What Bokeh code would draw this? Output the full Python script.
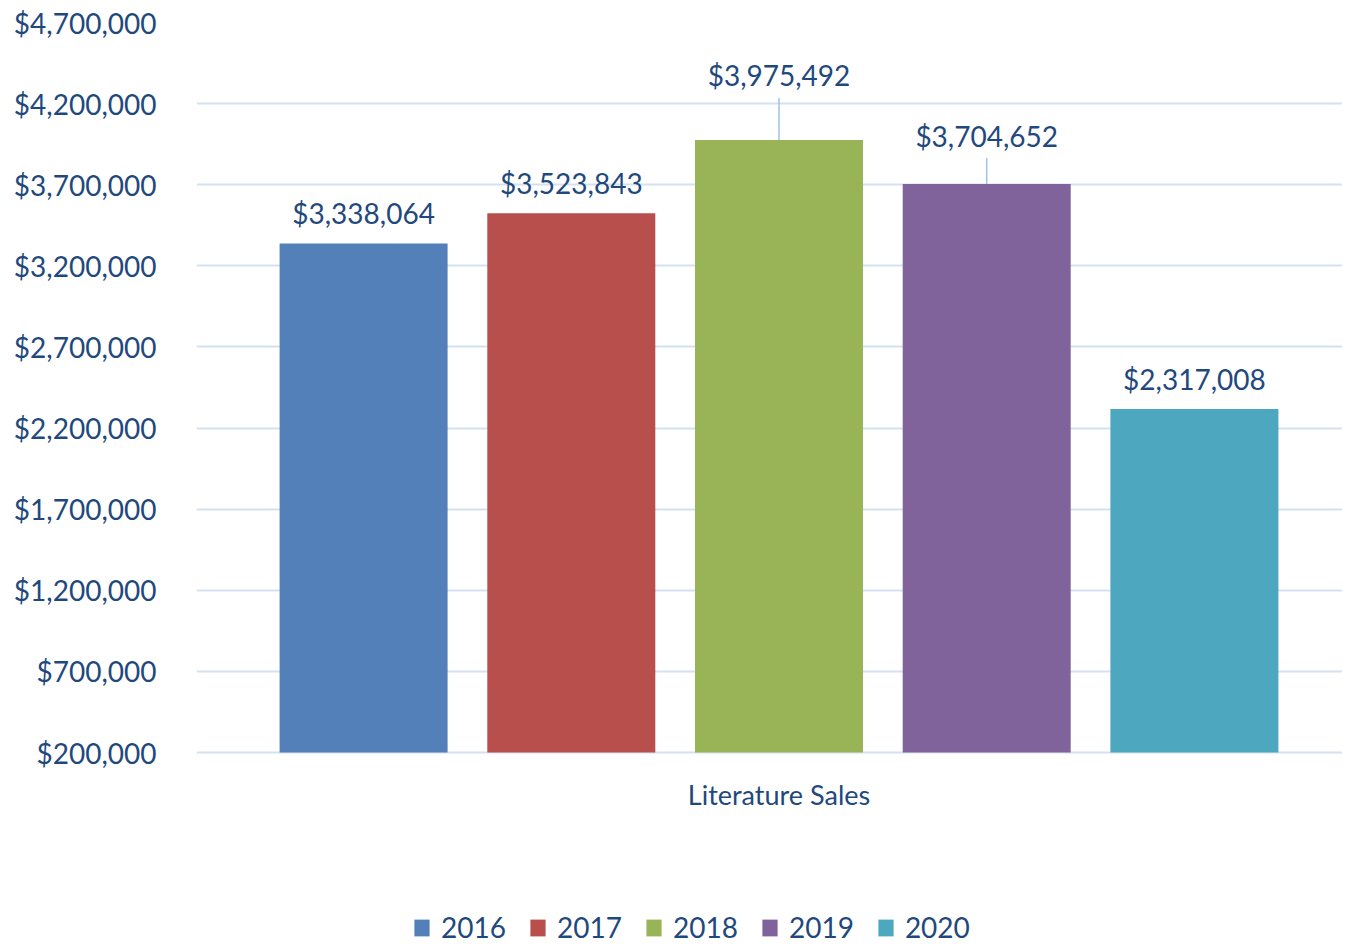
from bokeh.plotting import figure
from bokeh.models import (ColumnDataSource, Range1d, FixedTicker, NumeralTickFormatter,
                          Legend, LegendItem)
from bokeh.core.properties import value
from bokeh.embed import file_html
from bokeh.resources import INLINE

# ---- data ----
category = "Literature Sales"
years = ["2016", "2017", "2018", "2019", "2020"]
sales = [3338064, 3523843, 3975492, 3704652, 2317008]
y_ticks = [200000, 700000, 1200000, 1700000, 2200000, 2700000, 3200000, 3700000, 4200000, 4700000]

# ---- style ----
colors = ["#5380b8", "#b84f4c", "#98b457", "#80639b", "#4da7bf"]
label_lift = [-30, -30, -65, -48, -30]      # px above bar top
leader_len = [0, 0, 42, 26, 0]              # px leader line
TEXT = "#1F497D"
GRID = "#D5E1F0"
FONT = "Lato"

W, H = 1342, 944
LEFT, TOP = 196, 22
BASE_PX = 752                                # pixel row of the lowest tick
frame_w = W - LEFT
units_per_px = (y_ticks[-1] - y_ticks[0]) / (BASE_PX - TOP)
y_start = y_ticks[0] - (H - BASE_PX) * units_per_px

spacing = 207.7 / frame_w
bar_w = 168.0 / frame_w
center = (778.5 - LEFT) / frame_w
offsets = [(i - 2) * spacing for i in range(len(years))]

src = ColumnDataSource(dict(
    x=offsets, top=sales, year=years, color=colors,
    label=["${:,}".format(v) for v in sales],
    lift=label_lift,
))
lead_idx = [i for i in range(len(years)) if leader_len[i] > 0]
lead_src = ColumnDataSource(dict(
    x=[offsets[i] for i in lead_idx], top=[sales[i] for i in lead_idx],
    length=[leader_len[i] for i in lead_idx],
))

p = figure(width=W, height=H, output_backend="svg", toolbar_location=None,
           x_range=Range1d(-center, 1 - center),
           y_range=Range1d(y_start, y_ticks[-1]),
           min_border_left=LEFT, min_border_top=TOP, min_border_bottom=0,
           min_border_right=0)
p.outline_line_color = None
p.background_fill_color = "white"

bars = p.vbar(x="x", top="top", bottom=y_ticks[0], width=bar_w, color="color",
              line_color=None, source=src)

p.ray(x="x", y="top", length="length", angle=1.5708, length_units="screen",
      line_color="#9DC3E6", line_width=1.5, source=lead_src)

p.text(x="x", y="top", text="label", y_offset="lift", text_align="center",
       text_baseline="middle", text_font=value(FONT), text_font_size="28px",
       text_color=TEXT, source=src)

# category label under the baseline
p.text(x=[0], y=[y_ticks[0]], text=[category], y_offset=42, text_align="center",
       text_baseline="middle", text_font=value(FONT), text_font_size="27px",
       text_color=TEXT)

# axes
p.yaxis.ticker = FixedTicker(ticks=y_ticks)
p.yaxis.formatter = NumeralTickFormatter(format="$0,0")
p.yaxis.axis_line_color = None
p.yaxis.major_tick_line_color = None
p.yaxis.minor_tick_line_color = None
p.yaxis.major_label_standoff = 34
p.yaxis.major_label_text_font = FONT
p.yaxis.major_label_text_font_size = "28px"
p.yaxis.major_label_text_color = TEXT

p.xaxis.visible = False
p.xgrid.grid_line_color = None
p.ygrid.grid_line_color = GRID
p.ygrid.grid_line_width = 2

items = [LegendItem(label=years[i], renderers=[bars], index=i) for i in range(len(years))]
legend = Legend(items=items, orientation="horizontal", location=(216, 0),
                glyph_width=19, glyph_height=21, label_standoff=10, spacing=22,
                padding=0, margin=0, border_line_color=None,
                background_fill_alpha=0,
                label_text_font=FONT, label_text_font_size="28px",
                label_text_color=TEXT, label_height=22)
p.add_layout(legend, "center")

open("out.html", "w").write(file_html(p, INLINE))
